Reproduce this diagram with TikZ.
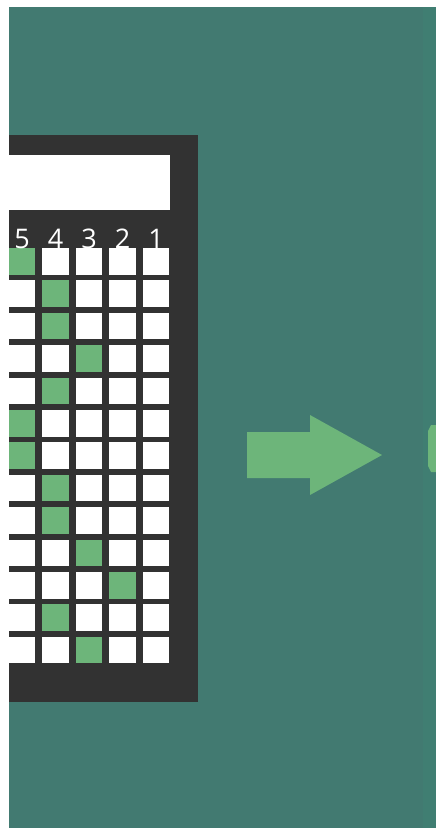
\documentclass[tikz,border=0pt]{standalone}
\usepackage{fontspec}
\setmainfont{Open Sans}
\definecolor{teal1}{HTML}{427A71}
\definecolor{teal2}{HTML}{407E72}
\definecolor{panel}{HTML}{323232}
\definecolor{grn}{HTML}{6DB57A}
\tikzset{
  cellw/.style={fill=white, draw=none},
  cellg/.style={fill=grn, draw=none},
  digit/.style={text=white, font=\fontsize{27}{27}\selectfont, anchor=base, inner sep=0pt},
}
\begin{document}
\begin{tikzpicture}[x=1pt,y=-1pt]
\useasboundingbox (0,0) rectangle (436,828);
\fill[white] (0,0) rectangle (436,828);
% background
\fill[teal1] (9,7) rectangle (436,828);
\fill[teal2] (423,7) rectangle (436,828);
% panel
\begin{scope}
\clip (9,7) rectangle (436,828);
\fill[panel] (0,135) rectangle (198,702);
\fill[white] (0,155) rectangle (170,210);
% grid: row -> green column
\foreach \r/\g in {1/5,2/4,3/4,4/3,5/4,6/5,7/5,8/4,9/4,10/3,11/2,12/4,13/3}{
  \foreach \c/\x in {5/22,4/55.5,3/89,2/122.5,1/156}{
    \pgfmathsetmacro{\yt}{248+32.4*(\r-1)}
    \ifnum\c=\g
      \fill[cellg] (\x-13.25,\yt) rectangle (\x+13.25,\yt+26.5);
    \else
      \fill[cellw] (\x-13.25,\yt) rectangle (\x+13.25,\yt+26.5);
    \fi
  }
}
% digits
\foreach \c/\x in {5/22,4/55.5,3/89,2/122.5,1/156}{
  \node[digit] (d\c) at (\x,248.5) {\c};
}
\end{scope}
% arrow
\fill[grn] (247,432) -- (310,432) -- (310,415) -- (382,455) -- (310,495) -- (310,478) -- (247,478) -- cycle;
% partial shape at right edge
\fill[grn] (436,425) -- (431,425) -- (428,431) -- (428,466) -- (431,472) -- (436,472) -- cycle;
\end{tikzpicture}
\end{document}
